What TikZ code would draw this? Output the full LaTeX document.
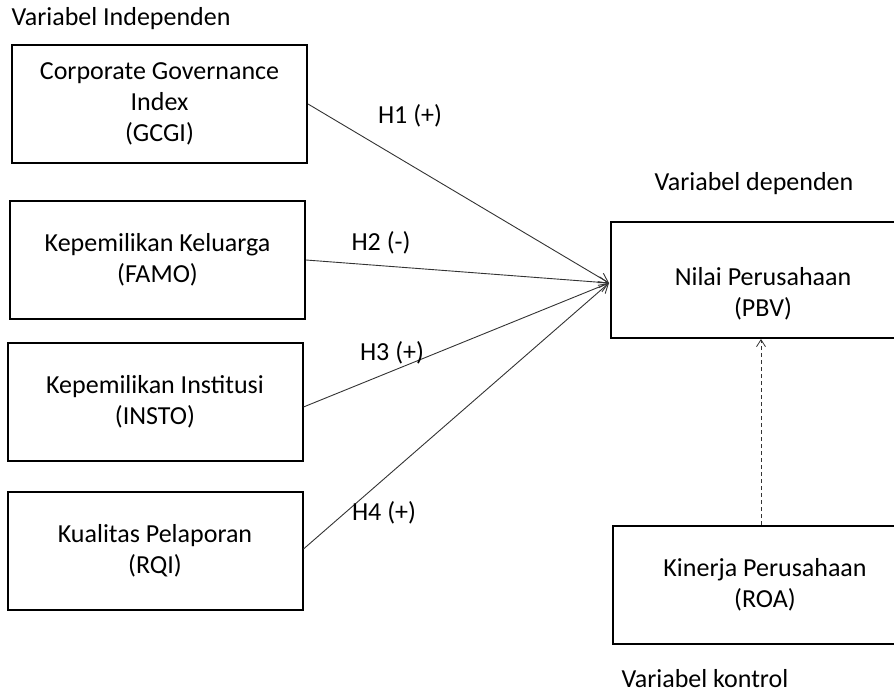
\documentclass[tikz,border=0pt]{standalone}
\usepackage{fontspec}
\setmainfont{Carlito}
\usetikzlibrary{arrows.meta}
\tikzset{x=1pt, y=-1pt,
  every node/.style={font=\fontsize{26}{31}\selectfont},
  box/.style={draw, line width=2pt, align=center, inner sep=0pt,
    minimum width=295pt, minimum height=118pt},
  link/.style={draw=black!80, line width=0.9pt,
    -{Straight Barb[length=9pt,width=11pt]}},
  ctrl/.style={draw=black!80, line width=0.8pt, dash pattern=on 4pt off 3pt,
    -{Straight Barb[length=7pt,width=9pt]}}}

\begin{document}
\begin{tikzpicture}
  \useasboundingbox (0,0) rectangle (894,695);
  \node (indep) [anchor=west] at (8,19) {Variabel Independen};
  \node (dep)   [anchor=west] at (651,184) {Variabel dependen};
  \node (kontrol) [anchor=west] at (618,679) {Variabel kontrol};

  \node (gcgi)  [box] at (159.5,104) {Corporate Governance\\Index\\(GCGI)};
  \node (famo)  [box] at (157.5,260) {Kepemilikan Keluarga\\(FAMO)};
  \node (insto) [box] at (155,402) {Kepemilikan Institusi\\(INSTO)};
  \node (rqi)   [box] at (155,551) {Kualitas Pelaporan\\(RQI)};
  \node (pbv)   [box, minimum width=304pt, minimum height=116pt,
    label={[yshift=-14pt, align=center]center:Nilai Perusahaan\\(PBV)}] at (763,280) {};
  \node (roa)   [box, minimum width=304pt] at (765,585)
    {Kinerja Perusahaan\\(ROA)};
  \coordinate (hub) at (609,283);

  \draw[link] (gcgi.east) -- (hub);
  \draw[link] (famo.east) -- (hub);
  \draw[link] ([yshift=-5pt]insto.east) -- (hub);
  \draw[link] ([yshift=2pt]rqi.east) -- (hub);
  \draw[ctrl] ([xshift=-4pt]roa.north) -- ([xshift=-4pt]roa.north |- pbv.south);

  \node (lh1) at (410,116) {H1 (+)};
  \node (lh2) at (381,243) {H2 (-)};
  \node (lh3) at (392,353) {H3 (+)};
  \node (lh4) at (384,513) {H4 (+)};
\end{tikzpicture}
\end{document}
